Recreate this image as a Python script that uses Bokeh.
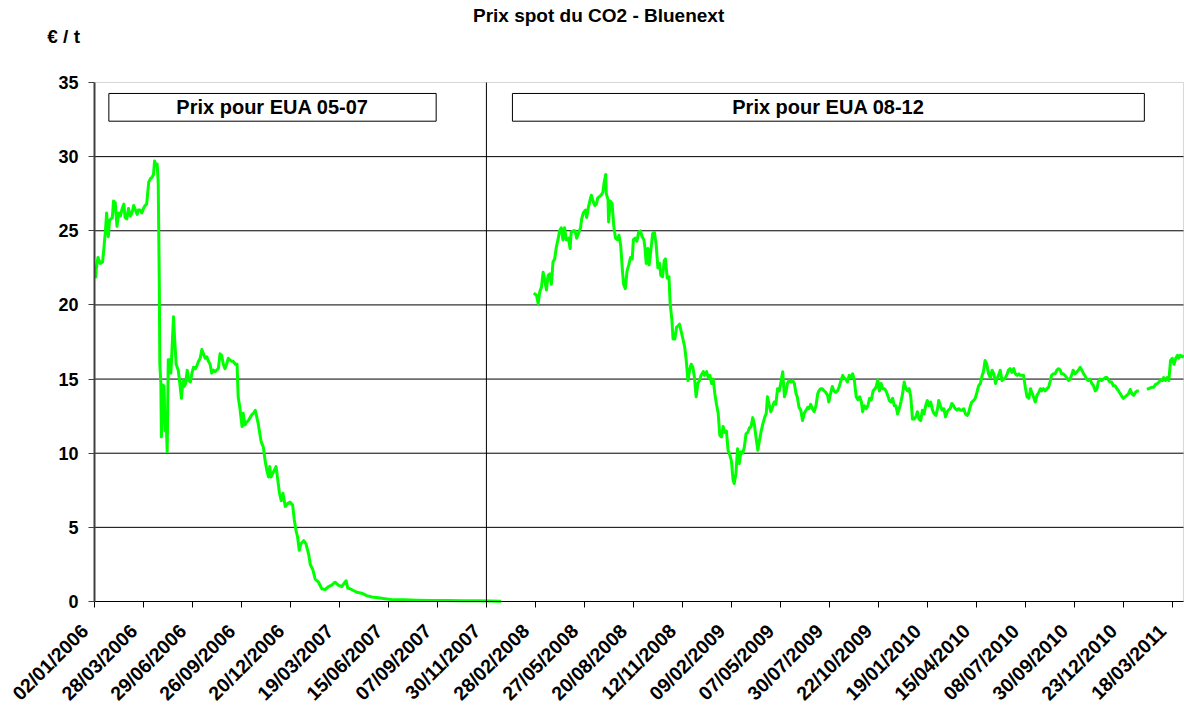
import numpy as np
import pandas as pd
from math import pi
from bokeh.plotting import figure
from bokeh.models import (Range1d, FixedTicker, BoxAnnotation, Label, LinearAxis,
                          ColumnDataSource)
from bokeh.embed import file_html
from bokeh.resources import INLINE

# ---------------- données ----------------
titre = "Prix spot du CO2 - Bluenext"
unite = "€ / t"
etiquette_phase1 = "Prix pour EUA 05-07"
etiquette_phase2 = "Prix pour EUA 08-12"
separation = "30/11/2007"

graduations = ["02/01/2006", "28/03/2006", "29/06/2006", "26/09/2006",
               "20/12/2006", "19/03/2007", "15/06/2007", "07/09/2007",
               "30/11/2007", "28/02/2008", "27/05/2008", "20/08/2008",
               "12/11/2008", "09/02/2009", "07/05/2009", "30/07/2009",
               "22/10/2009", "19/01/2010", "15/04/2010", "08/07/2010",
               "30/09/2010", "23/12/2010", "18/03/2011"]
graduations_y = [0, 5, 10, 15, 20, 25, 30, 35]

debut = "2006-01-02"  # jours comptés depuis cette date

# EUA 05-07
jours_a = [2, 3, 6, 10, 14, 16, 19, 21, 24, 26, 31, 33, 36, 39, 42, 45, 48, 51,
           53, 56, 59, 62, 65, 68, 71, 74, 76, 79, 82, 85, 88, 91, 95, 98, 101,
           104, 106, 109, 111, 113, 115, 116, 118, 119, 122, 124, 126, 128, 130,
           132, 135, 137, 139, 142, 144, 147, 151, 154, 157, 160, 162, 165, 168,
           171, 174, 177, 180, 183, 186, 189, 192, 195, 198, 201, 204, 207, 210,
           213, 216, 219, 222, 225, 228, 231, 234, 237, 240, 243, 246, 249, 252,
           256, 259, 261, 264, 268, 270, 273, 276, 279, 282, 285, 288, 291, 296,
           301, 305, 308, 311, 314, 316, 318, 322, 327, 330, 333, 336, 339, 343,
           347, 351, 356, 359, 362, 365, 368, 371, 376, 380, 385, 388, 393, 397,
           403, 409, 415, 421, 427, 433, 439, 445, 449, 453, 456, 460, 466, 472,
           481, 490, 499, 511, 523, 538, 555, 578, 601, 630, 659, 683, 706, 724]
prix_a = [21.8, 22.4, 23.2, 22.8, 22.9, 23.7, 25.0, 26.2, 24.6, 25.7, 25.9, 27.0,
          26.9, 25.3, 26.2, 26.0, 26.5, 26.8, 25.9, 25.8, 26.5, 26.0, 26.2, 26.7,
          26.4, 26.1, 26.4, 26.4, 26.2, 26.5, 26.7, 26.8, 28.3, 28.5, 28.6, 28.8,
          29.7, 29.4, 29.5, 28.2, 21.4, 16.0, 14.7, 11.1, 14.6, 14.5, 11.5, 12.4,
          10.1, 16.3, 16.3, 15.4, 16.9, 19.2, 17.8, 16.0, 15.6, 14.7, 13.7, 14.9,
          14.5, 14.7, 15.6, 14.9, 14.8, 15.4, 15.8, 15.7, 15.9, 16.2, 16.4, 17.0,
          16.7, 16.4, 16.5, 16.2, 16.0, 15.4, 15.6, 15.5, 15.6, 15.7, 16.7, 16.6,
          16.0, 15.7, 16.0, 16.4, 16.3, 16.2, 16.2, 16.0, 16.0, 13.8, 13.1, 11.8,
          12.7, 11.9, 12.1, 12.2, 12.4, 12.6, 12.7, 12.9, 12.0, 10.8, 10.4, 9.5,
          8.85, 8.4, 9.1, 8.4, 8.7, 9.1, 8.2, 7.3, 6.8, 7.3, 6.4, 6.6, 6.7, 6.5,
          5.5, 4.8, 4.35, 3.45, 3.9, 4.1, 3.9, 3.2, 2.5, 2.1, 1.5, 1.3, 0.86, 0.8,
          1.0, 1.1, 1.3, 1.1, 1.0, 1.2, 1.4, 0.9, 0.86, 0.74, 0.63, 0.56, 0.4, 0.3,
          0.25, 0.18, 0.11, 0.11, 0.09, 0.07, 0.07, 0.05, 0.05, 0.03, 0.02]

# EUA 08-12 (None = jours sans cotation)
jours_b = [784, 789, 792, 795, 798, 801, 804, 807, 810, 813, 816, 819, 822, 825,
           828, 831, 834, 837, 840, 843, 847, 850, 852, 856, 859, 862, 866, 869,
           871, 874, 878, 880, 883, 886, 888, 891, 894, 897, 899, 902, 905, 908,
           910, 913, 914, 917, 918, 921, 924, 927, 930, 933, 936, 939, 942, 944,
           947, 950, 953, 956, 959, 961, 964, 967, 970, 973, 976, 979, 981, 983,
           986, 988, 991, 994, 997, 1000, 1003, 1006, 1008, 1011, 1014, 1016,
           1019, 1022, 1024, 1027, 1029, 1032, 1035, 1038, 1040, 1043, 1046,
           1049, 1052, 1055, 1058, 1061, 1064, 1067, 1070, 1073, 1076, 1079,
           1083, 1085, 1089, 1092, 1095, 1098, 1101, 1104, 1107, 1110, 1113,
           1116, 1119, 1122, 1125, 1128, 1131, 1134, 1137, 1139, 1142, 1145,
           1148, 1151, 1154, 1157, 1160, 1163, 1166, 1169, 1172, 1175, 1178,
           1181, 1184, 1187, 1190, 1193, 1196, 1198, 1201, 1204, 1207, 1210,
           1213, 1216, 1219, 1222, 1225, 1228, 1231, 1233, 1236, 1239, 1242,
           1245, 1248, 1250, 1253, 1256, 1259, 1262, 1265, 1268, 1270, 1273,
           1276, 1279, 1282, 1285, 1287, 1290, 1293, 1296, 1299, 1302, 1304,
           1307, 1310, 1313, 1316, 1319, 1322, 1325, 1328, 1330, 1333, 1336,
           1339, 1341, 1345, 1348, 1351, 1354, 1357, 1360, 1362, 1365, 1368,
           1371, 1374, 1377, 1380, 1383, 1385, 1388, 1391, 1394, 1397, 1400,
           1403, 1406, 1409, 1412, 1415, 1418, 1421, 1424, 1427, 1430, 1433,
           1436, 1439, 1442, 1445, 1448, 1451, 1454, 1457, 1460, 1463, 1466,
           1469, 1472, 1475, 1478, 1481, 1484, 1487, 1490, 1493, 1496, 1498,
           1501, 1504, 1507, 1510, 1513, 1515, 1518, 1521, 1524, 1527, 1530,
           1533, 1536, 1539, 1542, 1545, 1548, 1550, 1553, 1556, 1559, 1562,
           1565, 1568, 1571, 1574, 1576, 1579, 1582, 1585, 1588, 1591, 1594,
           1597, 1599, 1602, 1605, 1608, 1611, 1614, 1617, 1619, 1622, 1625,
           1628, 1631, 1634, 1637, 1639, 1642, 1645, 1648, 1651, 1654, 1657,
           1659, 1662, 1665, 1668, 1671, 1674, 1676, 1679, 1682, 1685, 1688,
           1691, 1693, 1696, 1699, 1702, 1705, 1708, 1710, 1713, 1716, 1719,
           1722, 1725, 1728, 1730, 1733, 1736, 1739, 1742, 1745, 1748, 1750,
           1753, 1756, 1759, 1762, 1765, 1768, 1771, 1773, 1776, 1779, 1782,
           1785, 1788, 1791, 1793, 1796, 1799, 1802, 1805, 1808, 1811, 1814,
           1816, 1819, 1822, 1825, 1828, 1831, 1834, 1837, 1840, 1843, 1850,
           1857, 1860, 1863, 1866, 1869, 1872, 1875, 1878, 1881, 1884, 1886,
           1889, 1892, 1895, 1898, 1901, 1904, 1907, 1910, 1912, 1915, 1918, 1921]
prix_b = [20.8, 20.65, 20.1, 20.9, 21.2, 22.2, 21.7, 21.0, 22.0, 22.1, 21.4, 22.9,
          23.1, 23.9, 24.4, 25.0, 25.2, 24.4, 25.2, 24.4, 24.5, 23.8, 24.9, 25.0,
          25.0, 24.5, 24.9, 25.2, 25.8, 26.2, 26.4, 25.9, 26.6, 27.1, 27.4, 27.0,
          26.7, 26.8, 27.2, 27.3, 27.4, 27.6, 28.2, 28.8, 27.5, 27.1, 25.6, 27.0,
          26.85, 25.3, 24.5, 24.4, 24.7, 24.0, 22.3, 21.4, 21.1, 22.3, 22.7, 23.2,
          23.1, 24.4, 24.5, 24.3, 24.9, 25.0, 24.6, 24.4, 23.8, 22.8, 23.8, 22.7,
          23.7, 24.8, 24.9, 24.1, 22.5, 22.8, 22.0, 21.9, 23.0, 23.1, 21.8, 21.9,
          20.1, 19.0, 17.7, 17.7, 18.5, 18.6, 18.7, 18.2, 17.7, 17.2, 16.3, 14.9,
          15.6, 16.0, 15.8, 15.1, 13.8, 14.7, 14.9, 15.25, 15.5, 15.25, 15.5, 15.1,
          15.25, 14.7, 15.0, 14.0, 13.3, 12.7, 11.2, 11.1, 11.8, 11.4, 11.5, 10.2,
          9.9, 9.5, 8.2, 7.96, 8.6, 10.3, 9.3, 10.1, 10.0, 10.4, 11.3, 11.4, 11.7,
          11.8, 12.4, 11.9, 11.0, 10.2, 10.9, 11.5, 12.0, 12.4, 12.7, 13.8, 13.3,
          12.8, 13.1, 13.45, 13.3, 14.35, 14.2, 14.8, 15.5, 13.8, 14.2, 14.7, 14.9,
          14.8, 14.9, 14.7, 14.0, 13.8, 13.1, 12.9, 12.2, 12.7, 12.9, 13.1, 13.0,
          13.3, 13.0, 12.8, 13.2, 14.0, 14.2, 14.35, 14.35, 14.2, 14.1, 13.9,
          13.45, 14.0, 14.5, 14.2, 14.1, 14.2, 14.5, 14.9, 15.25, 15.1, 15.0, 14.8,
          15.25, 15.1, 15.35, 14.9, 13.8, 13.6, 13.8, 13.45, 12.8, 13.2, 13.0,
          13.2, 13.7, 13.6, 14.2, 14.35, 14.45, 14.95, 14.2, 14.7, 14.35, 14.35,
          14.2, 13.9, 13.55, 13.45, 13.7, 13.2, 13.2, 12.65, 13.0, 13.45, 14.0,
          14.8, 14.35, 14.2, 14.35, 13.8, 12.3, 12.3, 12.45, 12.8, 12.3, 12.2,
          12.9, 12.65, 13.2, 13.55, 13.2, 13.45, 12.9, 12.65, 12.55, 13.0, 13.55,
          13.2, 12.9, 13.0, 12.45, 12.8, 12.9, 13.0, 13.35, 13.2, 13.0, 12.9,
          13.0, 12.9, 12.9, 13.0, 12.65, 12.55, 12.65, 13.1, 13.45, 13.55, 13.7,
          14.1, 14.55, 14.7, 15.25, 15.45, 16.25, 16.0, 15.35, 15.1, 15.6, 15.35,
          14.7, 15.0, 15.25, 15.6, 14.9, 15.0, 15.1, 15.35, 15.6, 15.7, 15.45,
          15.7, 15.35, 15.25, 15.35, 15.25, 15.25, 15.25, 14.45, 13.8, 13.7,
          14.35, 14.1, 13.8, 13.45, 13.9, 14.1, 14.35, 14.2, 14.35, 14.2, 14.35,
          14.45, 14.9, 15.25, 15.35, 15.35, 15.6, 15.7, 15.6, 15.35, 15.35, 15.25,
          15.1, 14.9, 15.0, 15.35, 15.6, 15.35, 15.45, 15.6, 15.8, 15.6, 15.35,
          15.25, 15.0, 14.9, 15.0, 14.7, 14.55, 14.2, 14.35, 14.8, 15.0, 14.9,
          15.0, 15.1, 15.1, 14.9, 14.8, 14.8, 14.55, 14.55, 14.35, 14.2, 14.0,
          13.8, 13.7, 13.8, 13.9, 14.0, 14.3, 14.0, 13.9, 14.1, 14.2, 14.2, None,
          14.3, 14.35, 14.4, 14.45, 14.45, 14.65, 14.7, 14.8, 14.95, 14.9, 15.1,
          14.9, 15.1, 14.9, 16.25, 16.4, 16.0, 16.4, 16.6, 16.4, 16.6, 16.5, 16.6]

# ---------------- échelle : graduations régulières (~60 séances) ----------------
t0 = pd.Timestamp(debut)
grad_dates = pd.to_datetime(graduations, format="%d/%m/%Y")
grad_jours = np.array([(d - t0).days for d in grad_dates], dtype=float)
grad_idx = np.arange(len(graduations), dtype=float)


def position(jours):
    j = np.asarray(jours, dtype=float)
    pos = np.interp(j, grad_jours, grad_idx)
    pente = 1.0 / (grad_jours[-1] - grad_jours[-2])
    return np.where(j > grad_jours[-1], grad_idx[-1] + (j - grad_jours[-1]) * pente, pos)


def source(jours, prix):
    j = np.asarray(jours, dtype=float)
    return ColumnDataSource(dict(
        date=t0 + pd.to_timedelta(j, unit="D"),
        pos=position(j),
        prix=np.array(prix, dtype=float)))


# ---------------- mise en page (pixels -> unités) ----------------
W, H = 1184, 706
PX_X = 48.99          # pixels par graduation
PX_Y = 14.829         # pixels par €/t
X0_PX, Y0_PX = 94, 601
XMAX = 22.229         # bord droit de la zone de tracé
YMAX = 35
Y_HAUT = YMAX + (Y0_PX - YMAX * PX_Y) / PX_Y

FONT = "Liberation Sans"
VERT = "#00FF00"

p = figure(width=W, height=H, title=None,
           x_range=Range1d(-X0_PX / PX_X, (W - X0_PX) / PX_X),
           y_range=Range1d(-(H - Y0_PX) / PX_Y, Y_HAUT),
           output_backend="svg", toolbar_location=None,
           min_border_left=0, min_border_right=0,
           min_border_top=0, min_border_bottom=0)
p.background_fill_color = "white"
p.border_fill_color = "white"
p.outline_line_color = None
p.xgrid.visible = False
p.ygrid.visible = False

# axe X : graduations (sans texte)
ax = p.below[0]
ax.fixed_location = 0
ax.bounds = (0, XMAX)
ax.ticker = FixedTicker(ticks=list(range(len(graduations))), minor_ticks=[])
ax.major_label_overrides = {i: "" for i in range(len(graduations))}
ax.major_label_text_color = None
ax.axis_line_color = "black"
ax.axis_line_width = 1
ax.major_tick_line_color = "black"
ax.major_tick_out = 6
ax.major_tick_in = 0
ax.minor_tick_line_color = None

# axe X : étiquettes de dates
decalage = -0.2
pos_etiq = [i + decalage for i in range(len(graduations))]
ax_lab = LinearAxis(fixed_location=0, axis_line_color=None,
                    major_tick_line_color=None, minor_tick_line_color=None,
                    major_tick_out=0, major_tick_in=0,
                    ticker=FixedTicker(ticks=pos_etiq, minor_ticks=[]),
                    major_label_overrides={v: g for v, g in zip(pos_etiq, graduations)},
                    major_label_orientation=pi / 4,
                    major_label_standoff=26,
                    major_label_text_font=FONT,
                    major_label_text_font_style="bold",
                    major_label_text_font_size="19.5px",
                    major_label_text_color="black")
p.add_layout(ax_lab, "below")

# axe Y
ay = p.left[0]
ay.fixed_location = 0
ay.bounds = (0, YMAX)
ay.ticker = FixedTicker(ticks=graduations_y, minor_ticks=[])
ay.major_label_text_font = FONT
ay.major_label_text_font_style = "bold"
ay.major_label_text_font_size = "18px"
ay.major_label_text_color = "black"
ay.major_label_standoff = 10
ay.axis_line_color = "#404040"
ay.axis_line_width = 2
ay.major_tick_line_color = "#404040"
ay.major_tick_out = 6
ay.major_tick_in = 0
ay.minor_tick_line_color = None

# quadrillage horizontal
grille = graduations_y[1:-1]
p.segment(x0=0, x1=XMAX, y0=grille, y1=grille, line_color="black", line_width=1)

# cadre de la zone de tracé
p.add_layout(BoxAnnotation(left=0, right=XMAX, bottom=0, top=YMAX,
                           fill_alpha=0, line_color="#808080", line_width=1,
                           level="underlay"))

# courbes
p.line(x="pos", y="prix", source=source(jours_a, prix_a),
       line_color=VERT, line_width=3, line_join="round")
p.line(x="pos", y="prix", source=source(jours_b, prix_b),
       line_color=VERT, line_width=3, line_join="round")

# séparation des deux phases
x_sep = float(position([(pd.to_datetime(separation, format="%d/%m/%Y") - t0).days])[0])
p.segment(x0=x_sep, x1=x_sep, y0=0, y1=YMAX, line_color="black", line_width=1)

# cadres des périodes
for gauche, droite, texte in [(0.293, 6.974, etiquette_phase1),
                              (8.531, 21.43, etiquette_phase2)]:
    p.add_layout(BoxAnnotation(left=gauche, right=droite, bottom=32.39, top=34.26,
                               fill_color="white", fill_alpha=1.0,
                               line_color="black", line_width=1, line_alpha=1.0))
    p.add_layout(Label(x=(gauche + droite) / 2, y=33.33, text=texte,
                       text_align="center", text_baseline="middle",
                       text_font=FONT, text_font_style="bold",
                       text_font_size="20px", text_color="black"))

# titre et unité (centre des majuscules à 14,7 px et 35,5 px du haut)
p.add_layout(Label(x=10.29, y=Y_HAUT - 14.7 / PX_Y, text=titre,
                   text_align="center", text_baseline="middle",
                   text_font=FONT, text_font_style="bold",
                   text_font_size="19px", text_color="black"))
p.add_layout(Label(x=-0.965, y=Y_HAUT - 35.5 / PX_Y, text=unite,
                   text_align="left", text_baseline="middle",
                   text_font=FONT, text_font_style="bold",
                   text_font_size="19px", text_color="black"))

open("out.html", "w").write(file_html(p, INLINE))
